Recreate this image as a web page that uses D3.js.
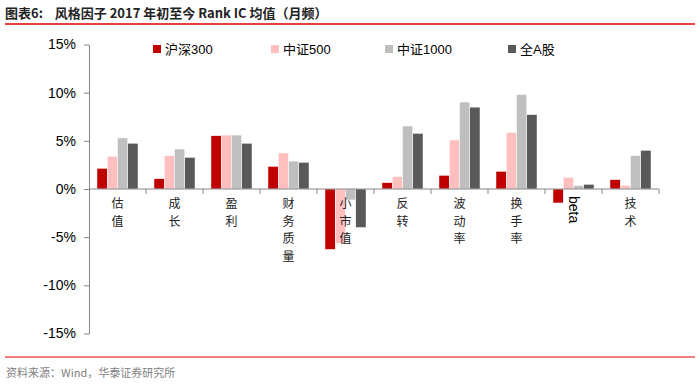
<!DOCTYPE html>
<html>
<head>
    <meta charset="utf-8">
    <title>风格因子 Rank IC</title>
    <script src="https://cdn.jsdelivr.net/npm/d3@7"></script>
    <style>
        body { margin: 0; background: #fff; }
        text { font-family: "Liberation Sans", Arial, "Noto Sans CJK SC", sans-serif; }
        .cjk { font-family: "Noto Sans CJK SC", sans-serif; }
    </style>
</head>
<body>
<div id="chart"></div>
<script>
    // factor categories and average Rank IC (%) per index universe
    const categories = ["估值", "成长", "盈利", "财务质量", "小市值", "反转", "波动率", "换手率", "beta", "技术"];
    const seriesNames = ["沪深300", "中证500", "中证1000", "全A股"];
    const hs300   = [2.15, 1.07, 5.53, 2.35, -6.27, 0.66, 1.42, 1.84, -1.45, 0.97];
    const zz500   = [3.40, 3.46, 5.60, 3.74, -5.65, 1.28, 5.09, 5.88, 1.21, 0.38];
    const zz1000  = [5.30, 4.15, 5.60, 2.90, -1.14, 6.54, 9.03, 9.80, 0.35, 3.46];
    const allA    = [4.75, 3.29, 4.75, 2.77, -4.00, 5.78, 8.50, 7.72, 0.49, 4.02];
    const yTicks = [-15, -10, -5, 0, 5, 10, 15];
    const colors = ["#C00000", "#FFBFBF", "#BFBFBF", "#595959"];

    const series = [hs300, zz500, zz1000, allA];

    const W = 700, H = 386;
    const svg = d3.select("#chart").append("svg")
        .attr("width", W).attr("height", H);

    // title
    svg.append("text")
        .attr("class", "cjk")
        .attr("x", 5).attr("y", 18)
        .attr("font-size", 13).attr("font-weight", "bold")
        .attr("fill", "#222")
        .text("图表6:\u00a0\u00a0\u00a0\u00a0风格因子 2017 年初至今 Rank IC 均值（月频）");
    svg.append("line")
        .attr("x1", 5).attr("x2", 695).attr("y1", 24).attr("y2", 24)
        .attr("stroke", "#E00000").attr("stroke-width", 1.5);

    // footer
    svg.append("line")
        .attr("x1", 5).attr("x2", 695).attr("y1", 357).attr("y2", 357)
        .attr("stroke", "#E00000").attr("stroke-width", 1);
    svg.append("text")
        .attr("class", "cjk")
        .attr("x", 6).attr("y", 377)
        .attr("font-size", 11).attr("fill", "#7f7f7f")
        .text("资料来源：Wind，华泰证券研究所");

    const x0 = d3.scaleBand().domain(categories).range([89, 659]).paddingInner(0.28).paddingOuter(0.14);
    const x1 = d3.scaleBand().domain(seriesNames).range([0, x0.bandwidth()]);
    const y = d3.scaleLinear().domain([-15, 15]).range([333.5, 44.5]);

    // y axis
    const yAxis = svg.append("g")
        .attr("transform", "translate(89,0)")
        .call(d3.axisLeft(y).tickValues(yTicks).tickFormat(d => d + "%").tickSize(5).tickSizeOuter(0));
    yAxis.select(".domain").attr("stroke", "#868686");
    yAxis.selectAll(".tick line").attr("stroke", "#868686");
    yAxis.selectAll(".tick text")
        .attr("font-size", 14).attr("fill", "#000").attr("x", -13)
        .attr("font-family", "'Liberation Sans', Arial, sans-serif");

    // bars
    const groups = svg.append("g").selectAll("g")
        .data(categories)
        .join("g")
        .attr("transform", c => `translate(${x0(c)},0)`);

    groups.selectAll("rect")
        .data((c, i) => series.map((s, k) => ({ name: seriesNames[k], v: s[i], k })))
        .join("rect")
        .attr("x", d => x1(d.name))
        .attr("width", x1.bandwidth())
        .attr("y", d => y(Math.max(0, d.v)))
        .attr("height", d => Math.abs(y(d.v) - y(0)))
        .attr("fill", d => colors[d.k])
        .attr("stroke", "#fff").attr("stroke-width", 0.5);

    // x axis at zero
    const xAxisG = svg.append("g").attr("transform", `translate(0,${y(0)})`);
    xAxisG.append("line")
        .attr("x1", 89).attr("x2", 659)
        .attr("stroke", "#868686");
    const edges = categories.map(c => x0(c) - x0.step() * x0.paddingInner() / 2).concat([659]);
    xAxisG.selectAll(".edge")
        .data(edges.slice(1))
        .join("line")
        .attr("x1", d => d).attr("x2", d => d)
        .attr("y1", 0).attr("y2", 5)
        .attr("stroke", "#868686");

    // category labels (vertical, one char per line)
    const labelTop = 208;
    categories.forEach(c => {
        const cx = x0(c) + x0.bandwidth() / 2;
        if (c === "beta") {
            svg.append("text")
                .attr("transform", `translate(${cx - 5},${labelTop - 12}) rotate(90)`)
                .attr("font-size", 14).attr("fill", "#000")
                .text(c);
            return;
        }
        svg.append("g").selectAll("text")
            .data(Array.from(c))
            .join("text")
            .attr("class", "cjk")
            .attr("x", cx)
            .attr("y", (ch, i) => labelTop + i * 17.5)
            .attr("text-anchor", "middle")
            .attr("font-size", 12).attr("fill", "#222")
            .text(ch => ch);
    });

    // legend
    const legendX = [153, 271, 385, 508];
    const legend = svg.append("g").selectAll("g")
        .data(seriesNames)
        .join("g")
        .attr("transform", (d, i) => `translate(${legendX[i]},45)`);
    legend.append("rect")
        .attr("width", 8).attr("height", 8)
        .attr("fill", (d, i) => colors[i]);
    legend.append("text")
        .attr("x", 12).attr("y", 8.5)
        .attr("font-size", 13).attr("fill", "#000")
        .text(d => d);
</script>
</body>
</html>
